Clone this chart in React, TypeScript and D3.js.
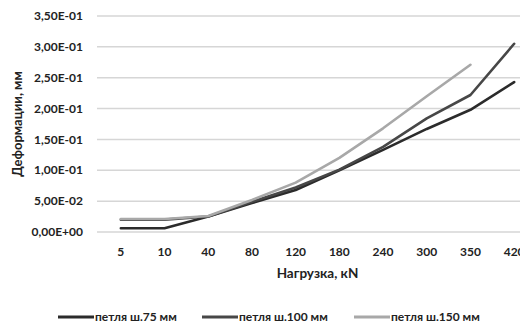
import { useRef, useEffect } from "react";
import * as d3 from "d3";

// Нагрузка, кN (категории оси X)
const loads = ["5", "10", "40", "80", "120", "180", "240", "300", "350", "420"];

// Деформации, мм
const loop75 = [0.006, 0.006, 0.025, 0.047, 0.068, 0.1, 0.133, 0.167, 0.198, 0.243];
const loop100 = [0.02, 0.02, 0.025, 0.049, 0.072, 0.101, 0.138, 0.184, 0.222, 0.305];
const loop150 = [0.021, 0.021, 0.026, 0.052, 0.08, 0.12, 0.168, 0.22, 0.271];

const seriesNames = ["петля ш.75 мм", "петля ш.100 мм", "петля ш.150 мм"];
const seriesColors = ["#2b2b2b", "#474747", "#a8a8a8"];
const yTicks = [0, 0.05, 0.1, 0.15, 0.2, 0.25, 0.3, 0.35];

const font = "Lato, 'Open Sans', sans-serif";

const fmt = (v: number) => {
  if (v === 0) return "0,00E+00";
  const e = Math.floor(Math.log10(v));
  const m = v / Math.pow(10, e);
  const exp = e < 0 ? `-${String(-e).padStart(2, "0")}` : `+${String(e).padStart(2, "0")}`;
  return `${m.toFixed(2).replace(".", ",")}E${exp}`;
};

const App = () => {
  const svgRef = useRef<SVGSVGElement>(null);

  useEffect(() => {
    const width = 520;
    const height = 326;
    const svg = d3.select(svgRef.current).attr("width", width).attr("height", height);
    svg.selectAll("*").remove();

    const left = 99;
    const right = 536;
    const top = 16;
    const bottom = 232;

    const x = d3.scaleBand<string>().domain(loads).range([left, right]);
    const y = d3.scaleLinear().domain([0, 0.35]).range([bottom, top]);

    // сетка
    svg
      .append("g")
      .selectAll("line")
      .data(yTicks)
      .join("line")
      .attr("x1", left - 2)
      .attr("x2", width)
      .attr("y1", (d) => y(d))
      .attr("y2", (d) => y(d))
      .attr("stroke", "#d6d6d6")
      .attr("stroke-width", 1.5);

    // подписи оси Y
    svg
      .append("g")
      .selectAll("text")
      .data(yTicks)
      .join("text")
      .attr("x", 83)
      .attr("y", (d) => y(d))
      .attr("dy", "0.35em")
      .attr("text-anchor", "end")
      .style("font", `bold 12px ${font}`)
      .attr("fill", "#222")
      .text((d) => fmt(d));

    // подписи оси X
    svg
      .append("g")
      .selectAll("text")
      .data(loads)
      .join("text")
      .attr("x", (d) => x(d)! + x.bandwidth() / 2)
      .attr("y", 256)
      .attr("text-anchor", "middle")
      .style("font", `bold 12px ${font}`)
      .attr("fill", "#222")
      .text((d) => d);

    svg
      .append("text")
      .attr("x", (left + right) / 2)
      .attr("y", 278)
      .attr("text-anchor", "middle")
      .style("font", `bold 13.5px ${font}`)
      .attr("fill", "#222")
      .text("Нагрузка, кN");

    svg
      .append("text")
      .attr("transform", `translate(22,124) rotate(-90)`)
      .attr("text-anchor", "middle")
      .style("font", `bold 13px ${font}`)
      .attr("fill", "#222")
      .text("Деформации, мм");

    // линии
    const line = d3
      .line<number>()
      .x((_, i) => x(loads[i])! + x.bandwidth() / 2)
      .y((d) => y(d));

    [loop75, loop100, loop150].forEach((vals, k) => {
      svg
        .append("path")
        .datum(vals)
        .attr("fill", "none")
        .attr("stroke", seriesColors[k])
        .attr("stroke-width", 2.6)
        .attr("stroke-linejoin", "round")
        .attr("stroke-linecap", "round")
        .attr("d", line);
    });

    // легенда
    const legendX = [58, 202, 354];
    const legend = svg
      .append("g")
      .selectAll("g")
      .data(seriesNames)
      .join("g")
      .attr("transform", (_, i) => `translate(${legendX[i]},317)`);
    legend
      .append("line")
      .attr("x1", 0)
      .attr("x2", 36)
      .attr("stroke", (_, i) => seriesColors[i])
      .attr("stroke-width", 3);
    legend
      .append("text")
      .attr("x", 37)
      .attr("dy", "0.35em")
      .style("font", `bold 12px ${font}`)
      .attr("fill", "#222")
      .text((d) => d);

    return () => {
      svg.selectAll("*").remove();
    };
  }, []);

  return (
    <svg
      ref={svgRef}
      style={{ position: "fixed", left: 0, top: 0, background: "#fff" }}
    ></svg>
  );
};

export default App;
